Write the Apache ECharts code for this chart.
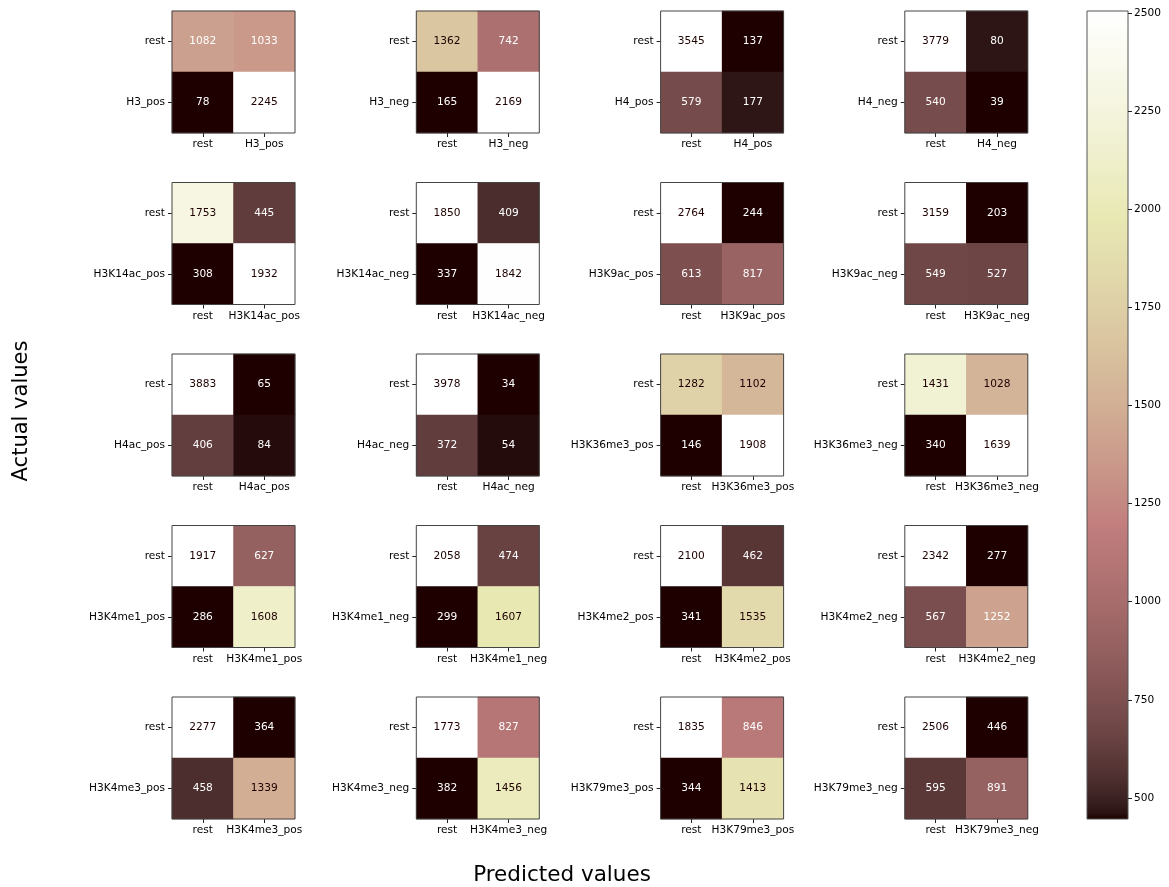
<!DOCTYPE html>
<html>
<head>
<meta charset="utf-8">
<script src="https://cdn.jsdelivr.net/npm/echarts@6/dist/echarts.min.js"></script>
<style>html,body{margin:0;padding:0;background:#fff;}#chart{width:1169px;height:887px;}</style>
</head>
<body>
<div id="chart"></div>
<script>
// ---- data ----
const classLabels = ['H3_pos','H3_neg','H4_pos','H4_neg',
  'H3K14ac_pos','H3K14ac_neg','H3K9ac_pos','H3K9ac_neg',
  'H4ac_pos','H4ac_neg','H3K36me3_pos','H3K36me3_neg',
  'H3K4me1_pos','H3K4me1_neg','H3K4me2_pos','H3K4me2_neg',
  'H3K4me3_pos','H3K4me3_neg','H3K79me3_pos','H3K79me3_neg'];
const restAsRest   = [1082,1362,3545,3779, 1753,1850,2764,3159, 3883,3978,1282,1431, 1917,2058,2100,2342, 2277,1773,1835,2506];
const restAsClass  = [1033, 742, 137,  80,  445, 409, 244, 203,   65,  34,1102,1028,  627, 474, 462, 277,  364, 827, 846, 446];
const classAsRest  = [  78, 165, 579, 540,  308, 337, 613, 549,  406, 372, 146, 340,  286, 299, 341, 567,  458, 382, 344, 595];
const classAsClass = [2245,2169, 177,  39, 1932,1842, 817, 527,   84,  54,1908,1639, 1608,1607,1535,1252, 1339,1456,1413, 891];
const restLabel = 'rest';
const colorbarTicks = [500,750,1000,1250,1500,1750,2000,2250,2500];
const yTitle = 'Actual values';
const xTitle = 'Predicted values';

// ---- matplotlib "pink" colormap ----
function pinkRGB(x){
  const hr = x < 0.365079 ? 0.0416 + (1-0.0416)*x/0.365079 : 1;
  const hg = x < 0.365079 ? 0 : (x < 0.746032 ? (x-0.365079)/(0.746032-0.365079) : 1);
  const hb = x < 0.746032 ? 0 : (x-0.746032)/(1-0.746032);
  const f = h => Math.round(255*Math.sqrt((2*x + h)/3));
  return [f(hr), f(hg), f(hb)];
}
const pinkStops = [];
for (let i = 0; i <= 128; i++) { const c = pinkRGB(i/128); pinkStops.push('rgb(' + c.join(',') + ')'); }
const cmin = pinkStops[0], cmax = pinkStops[pinkStops.length-1];

const FONT = 'DejaVu Sans';
const tickFs = 10.6;
const nCols = 4;
const grids = [], xAxes = [], yAxes = [], series = [], visualMaps = [];
const lefts = [172, 416.3, 660.6, 904.8];
const tops = [11, 182.5, 354, 525.5, 697];
const W = 123, H = 122;

classLabels.forEach((lab, i) => {
  const r = Math.floor(i / nCols), c = i % nCols;
  grids.push({left: lefts[c], top: tops[r], width: W, height: H, show: true,
    backgroundColor: 'transparent', borderColor: '#444', borderWidth: 1, z: 5});
  const cats = [restLabel, lab];
  const axBase = {
    type: 'category', data: cats, gridIndex: i,
    axisLine: {show: false},
    axisTick: {show: true, alignWithLabel: true, length: 4, lineStyle: {color: '#222', width: 1}},
    splitLine: {show: false}, splitArea: {show: false}
  };
  xAxes.push(Object.assign({}, axBase, {position: 'bottom',
    axisLabel: {interval: 0, fontFamily: FONT, fontSize: tickFs, color: '#000', margin: 6}}));
  yAxes.push(Object.assign({}, axBase, {inverse: true, position: 'left',
    axisLabel: {interval: 0, fontFamily: FONT, fontSize: tickFs, color: '#000', margin: 7}}));
  const m = [[restAsRest[i], restAsClass[i]], [classAsRest[i], classAsClass[i]]];
  const vals = [m[0][0], m[0][1], m[1][0], m[1][1]];
  const vmin = Math.min(...vals), vmax = Math.max(...vals);
  const thresh = (vmin + vmax) / 2;
  const data = [];
  for (let a = 0; a < 2; a++) for (let p = 0; p < 2; p++) {
    const v = m[a][p];
    data.push({value: [p, a, v], label: {color: v < thresh ? cmax : cmin}});
  }
  series.push({type: 'heatmap', xAxisIndex: i, yAxisIndex: i, data: data,
    label: {show: true, fontFamily: FONT, fontSize: tickFs},
    emphasis: {disabled: true}, itemStyle: {borderWidth: 0}});
  visualMaps.push({type: 'continuous', show: false, seriesIndex: i, dimension: 2,
    min: vmin, max: vmax, inRange: {color: pinkStops}});
});

// colorbar (uses last matrix's range)
const lastIdx = classLabels.length - 1;
const cbVals = [restAsRest[lastIdx], restAsClass[lastIdx], classAsRest[lastIdx], classAsClass[lastIdx]];
const cbMin = Math.min(...cbVals), cbMax = Math.max(...cbVals);
const gradStops = pinkStops.map((col, k) => ({offset: 1 - k/(pinkStops.length-1), color: col})).reverse();
grids.push({left: 1087, top: 11, width: 41, height: 808, show: true,
  backgroundColor: {type: 'linear', x: 0, y: 0, x2: 0, y2: 1, colorStops: gradStops},
  borderColor: '#555', borderWidth: 1});
xAxes.push({type: 'value', gridIndex: classLabels.length, min: 1, max: 2, show: false,
  axisLine: {onZero: false}});
yAxes.push({type: 'value', gridIndex: classLabels.length, min: cbMin, max: cbMax, position: 'right',
  axisLine: {show: false, onZero: false}, splitLine: {show: false}, minorTick: {show: false},
  axisTick: {show: true, length: 4, customValues: colorbarTicks, lineStyle: {color: '#222'}},
  axisLabel: {customValues: colorbarTicks, formatter: v => String(v),
    fontFamily: FONT, fontSize: tickFs, color: '#000', margin: 6}});

const chart = echarts.init(document.getElementById('chart'), null, {renderer: 'canvas'});
chart.setOption({
  animation: false,
  backgroundColor: '#fff',
  grid: grids, xAxis: xAxes, yAxis: yAxes, visualMap: visualMaps, series: series,
  graphic: [
    {type: 'text', x: 22, y: 411, rotation: Math.PI/2,
     style: {text: yTitle, font: '21px "DejaVu Sans"', fill: '#000', textAlign: 'center', textVerticalAlign: 'middle'}},
    {type: 'text', x: 562, y: 875,
     style: {text: xTitle, font: '21.5px "DejaVu Sans"', fill: '#000', textAlign: 'center', textVerticalAlign: 'middle'}}
  ]
});
</script>
</body>
</html>
